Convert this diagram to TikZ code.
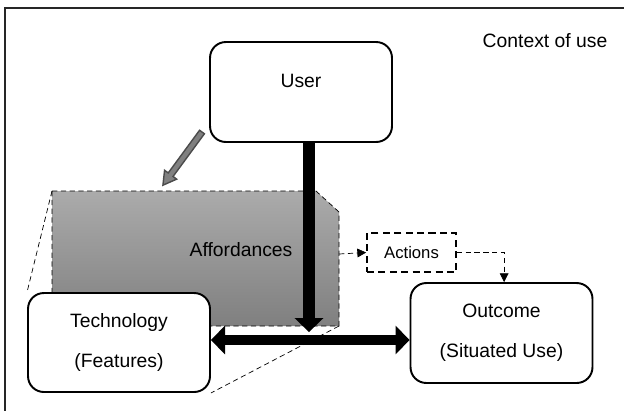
\documentclass[tikz,border=0pt]{standalone}
\usepackage{fontspec}
\setmainfont{Liberation Sans}
\usepackage{tikz}
\usetikzlibrary{arrows.meta, positioning}

\begin{document}
\begin{tikzpicture}[x=0.02cm,y=-0.02cm,font=\fontsize{11}{13}\selectfont]
    \tikzstyle{block}=[shape=rectangle,rounded corners=9pt,draw,line width=1.1pt,fill=white,align=center,minimum width=3.64cm,minimum height=2cm]
    \tikzstyle{fat}=[line width=6.5pt,-{Triangle[width=16pt,length=8pt]}]
    \tikzstyle{link}=[densely dashed,thin,-{Triangle[width=5pt,length=5pt]}]

    \useasboundingbox (0,0) rectangle (624,410);
    \draw[line width=1.2pt,black!85] (5,420) -- (5,8) -- (630,8);
    \node[anchor=base] (context) at (545,47) {Context of use};

    % affordances
    \coordinate (A1) at (52,191);
    \coordinate (A2) at (339,326);
    \path[draw,densely dashed,thin,top color=black!33,bottom color=black!50]
      (A1) -- (316,191) -- (339,212) -- (A2) -- (52,326) -- cycle;
    \node (afford) at (241,250) {Affordances};
    \coordinate (affright) at (339,254);

    \node[block] (user) at (301,92) {User\\\mbox{}};
    \node[block,minimum height=1.98cm] (tech) at (119,342.5) {Technology\\[10pt](Features)};
    \node[block] (outcome) at (501.5,333) {Outcome\\[10pt](Situated Use)};
    \node[draw,dashed,line width=1pt,dash pattern=on 4pt off 2.5pt,minimum width=1.78cm,minimum height=0.78cm,font=\fontsize{9.5}{11}\selectfont] (actions) at (411.5,252.5) {Actions};

    \draw[densely dashed,thin] (A1) -- (tech.north west);
    \draw[densely dashed,thin] (A2) -- (tech.south east);

    % grey hint arrow
    \begin{scope}[shift={(202,132)},rotate=-126.3]
      \draw[black!70,fill=black!50,line width=0.8pt,line join=miter]
        (0,-3) -- (53,-3) -- (53,-7.5) -- (66,0) -- (53,7.5) -- (53,3) -- (0,3) -- cycle;
    \end{scope}

    \coordinate (hub) at (309,340);
    \draw[fat] (user.south -| hub) -- ([yshift=4.5pt]hub);
    \draw[line width=5.7pt,{Triangle[width=16pt,length=8pt]}-{Triangle[width=16pt,length=8pt]}]
      (tech.east |- hub) -- (outcome.west |- hub);

    \draw[link] (affright) -- (actions.west);
    \draw[link] (actions.east) -| ([xshift=1.5pt]outcome.north);
\end{tikzpicture}
\end{document}
